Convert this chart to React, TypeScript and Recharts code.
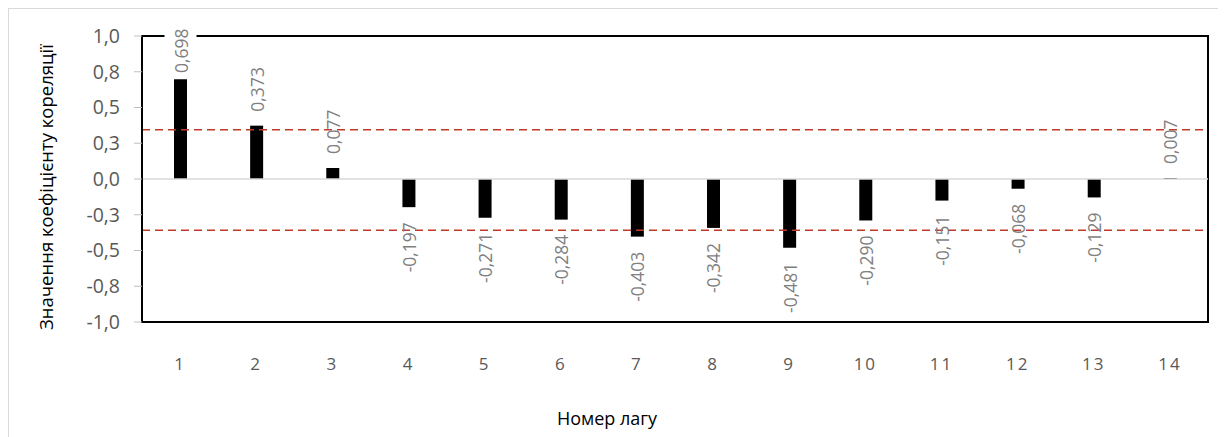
import { Bar, BarChart, LabelList, ReferenceLine, XAxis, YAxis } from 'recharts';

const lags = ['1', '2', '3', '4', '5', '6', '7', '8', '9', '10', '11', '12', '13', '14'];
const acf = [
  0.698, 0.373, 0.077, -0.197, -0.271, -0.284, -0.403, -0.342, -0.481, -0.29, -0.151, -0.068,
  -0.129, 0.007,
];
const yTicks = [-1, -0.75, -0.5, -0.25, 0, 0.25, 0.5, 0.75, 1];
const upperBound = 0.345;
const lowerBound = -0.358;

const data = lags.map((lag, i) => ({ lag, r: acf[i] }));

const PLOT_TOP = 27;
const LABEL_SIZE = 17.5;

const fmt = (v: number, digits: number) => v.toFixed(digits).replace('.', ',');

function BarValueLabel(props: any) {
  const { x, y, width, height, value } = props;
  const v = Number(value);
  const cx = Number(x) + Number(width) / 2;
  const top = Math.min(Number(y), Number(y) + Number(height));
  const bottom = Math.max(Number(y), Number(y) + Number(height));
  const anchorY = v >= 0 ? Math.max(top - 14, 64) : bottom + 15;
  const text = fmt(v, 3);
  const textLen = text.length * LABEL_SIZE * 0.52;
  const textTop = v >= 0 ? anchorY - textLen : anchorY;
  // Excel clears the frame where a label overruns it
  const clearFrame = textTop < PLOT_TOP + 2;
  return (
    <g>
      {clearFrame && (
        <rect x={cx - 16} y={textTop - 2} width={32} height={PLOT_TOP + 3 - textTop} fill="#fff" />
      )}
      <text
        x={cx}
        y={anchorY}
        transform={`rotate(-90 ${cx} ${anchorY})`}
        textAnchor={v >= 0 ? 'start' : 'end'}
        dominantBaseline="central"
        fill="#7f7f7f"
        fontSize={LABEL_SIZE}
        fontFamily="Open Sans"
      >
        {text}
      </text>
    </g>
  );
}

function LagTick(props: any) {
  const { x, y, payload } = props;
  return (
    <text
      x={x}
      y={y}
      dy={40}
      textAnchor="middle"
      fill="#595959"
      fontSize={17}
      fontFamily="Open Sans"
      letterSpacing={2}
    >
      {payload.value}
    </text>
  );
}

export default function App() {
  return (
    <div
      style={{
        position: 'relative',
        width: 1218,
        height: 429,
        boxSizing: 'border-box',
        borderTop: '1px solid #d9d9d9',
        borderLeft: '1px solid #d9d9d9',
        fontFamily: 'Open Sans',
      }}
    >
      {/* plot area frame, under the svg */}
      <div
        style={{
          position: 'absolute',
          left: 132,
          top: 26,
          width: 1068,
          height: 288,
          boxSizing: 'border-box',
          border: '2px solid #000',
        }}
      />
      <div style={{ position: 'relative', zIndex: 1 }}>
        <BarChart
          width={1217}
          height={428}
          data={data}
          margin={{ top: PLOT_TOP, right: 18, bottom: 0, left: 0 }}
          barSize={13}
        >
          <XAxis
            dataKey="lag"
            height={115}
            axisLine={{ stroke: '#000', strokeWidth: 2 }}
            tickLine={false}
            tick={<LagTick />}
            interval={0}
          />
          <YAxis
            width={133}
            domain={[-1, 1]}
            ticks={yTicks}
            interval={0}
            tickFormatter={(v: number) => fmt(v, 1)}
            axisLine={{ stroke: '#000', strokeWidth: 2 }}
            tickLine={{ stroke: '#bfbfbf' }}
            tickSize={8}
            tickMargin={14}
            tick={{ fill: '#595959', fontSize: 19.5, fontFamily: 'Open Sans' }}
          />
          <ReferenceLine y={0} stroke="#d9d9d9" strokeWidth={1.5} />
          <Bar dataKey="r" fill="#000" isAnimationActive={false}>
            <LabelList dataKey="r" content={<BarValueLabel />} />
          </Bar>
          <ReferenceLine y={upperBound} stroke="#c0392b" strokeWidth={1.5} strokeDasharray="8 5" />
          <ReferenceLine y={lowerBound} stroke="#c0392b" strokeWidth={1.5} strokeDasharray="8 5" />
        </BarChart>
      </div>
      <div
        style={{
          position: 'absolute',
          left: 36,
          top: 178,
          transform: 'translate(-50%, -50%) rotate(-90deg)',
          whiteSpace: 'nowrap',
          fontSize: 18.5,
          color: '#000',
        }}
      >
        Значення коефіцієнту кореляції
      </div>
      <div
        style={{
          position: 'absolute',
          left: 598,
          top: 409,
          transform: 'translate(-50%, -50%)',
          whiteSpace: 'nowrap',
          fontSize: 18,
          color: '#000',
        }}
      >
        Номер лагу
      </div>
    </div>
  );
}
